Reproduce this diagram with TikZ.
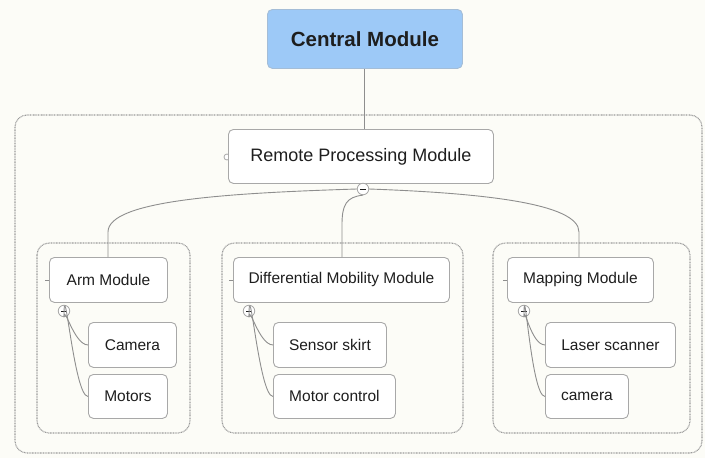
\documentclass[tikz,border=0pt]{standalone}
\usepackage{fontspec}
\setmainfont{Liberation Sans}
\begin{document}
\begin{tikzpicture}[x=1pt,y=-1pt,
  box/.style={draw=boxgray, line width=0.9pt, rounded corners=5pt, fill=white,
    anchor=north west, inner sep=0pt, align=center, text=textdark,
    font=\fontsize{15.5}{17}\selectfont},
  topbox/.style={box, fill=centralblue, draw=centralblue!80!black!70,
    font=\fontsize{20.5}{23}\bfseries\selectfont},
  groupbox/.style={draw=dotgray, line width=1.1pt, dash pattern=on 0.9pt off 0.7pt,
    rounded corners=12pt},
  link/.style={draw=linegray, line width=0.9pt},
  minus/.style={circle, draw=boxgray, fill=white, line width=0.8pt,
    minimum size=11.5pt, inner sep=0pt,
    path picture={\draw[line width=1pt,textdark]
      ([xshift=-3pt]path picture bounding box.center) --
      ([xshift=3pt]path picture bounding box.center);}},
  knob/.style={circle, draw=boxgray, fill=white, line width=0.8pt,
    minimum size=6pt, inner sep=0pt}
]
\definecolor{bgcol}{HTML}{FCFCF7}
\definecolor{boxgray}{HTML}{A8A8A8}
\definecolor{dotgray}{HTML}{9A9A9A}
\definecolor{linegray}{HTML}{8E8E8E}
\definecolor{textdark}{HTML}{1E1E1E}
\definecolor{centralblue}{HTML}{9DC9F7}

\useasboundingbox (0,0) rectangle (705,458);
\fill[bgcol] (0,0) rectangle (705,458);

% dotted group frames
\draw[groupbox] (15,115) rectangle (702,453);
\draw[groupbox] (37,243) rectangle (190,433);
\draw[groupbox] (222,243) rectangle (463,433);
\draw[groupbox] (493,243) rectangle (690,433);

% central and remote modules
\node[topbox, minimum width=195pt, minimum height=59pt] (central) at (267,9) {Central Module};
\node[knob] (rknob) at (227,157) {};
\node[box, minimum width=265pt, minimum height=54pt,
      font=\fontsize{18}{20}\selectfont] (remote) at (228,129) {Remote Processing Module};

% module level
\node[box, minimum width=118pt, minimum height=45pt] (arm) at (49,257) {Arm Module};
\node[box, minimum width=216pt, minimum height=45pt] (diff) at (233,257) {Differential Mobility Module};
\node[box, minimum width=146pt, minimum height=45pt] (map) at (507,257) {Mapping Module};

% leaf level
\node[box, minimum width=88pt, minimum height=45pt] (cam) at (88,322) {Camera};
\node[box, minimum width=79pt, minimum height=44pt] (mot) at (88,374) {Motors};
\node[box, minimum width=113pt, minimum height=45pt] (skirt) at (273,322) {Sensor skirt};
\node[box, minimum width=122pt, minimum height=44pt] (mctl) at (273,374) {Motor control};
\node[box, minimum width=130pt, minimum height=45pt] (laser) at (545,322) {Laser scanner};
\node[box, minimum width=83pt, minimum height=44pt] (cam2) at (545,374) {camera};

% collapse markers
\node[minus] (rm) at (363,189) {};
\node[minus] (am) at (64,311) {};
\node[minus] (dm) at (249,311) {};
\node[minus] (mm) at (524,311) {};

% connectors
\draw[link] (central.south -| 364,0) -- (remote.north -| 364,0);

\coordinate (armtop) at (arm.north -| 108,0);
\coordinate (difftop) at (diff.north -| 342,0);
\coordinate (maptop) at (map.north -| 579,0);
\draw[link] (rm.west) .. controls (230,193) and (108,200) .. (108,232) -- (armtop);
\draw[link] (rm.south) .. controls (346,197) and (342,205) .. (342,225) -- (difftop);
\draw[link] (rm.east) .. controls (480,193) and (579,203) .. (579,232) -- (maptop);

\foreach \m/\a/\b in {am/cam/mot, dm/skirt/mctl, mm/laser/cam2}{
  \draw[link] (\m.south) .. controls ([yshift=14pt]\m.south) and ([xshift=-14pt]\a.west) .. (\a.west);
  \draw[link] (\m.south) .. controls ([yshift=50pt]\m.south) and ([xshift=-14pt]\b.west) .. (\b.west);
}

% small side ticks
\foreach \n in {arm,diff,map}{
  \draw[link, line width=0.7pt] (\n.west) -- ++(-4,0);
}
\end{tikzpicture}
\end{document}
